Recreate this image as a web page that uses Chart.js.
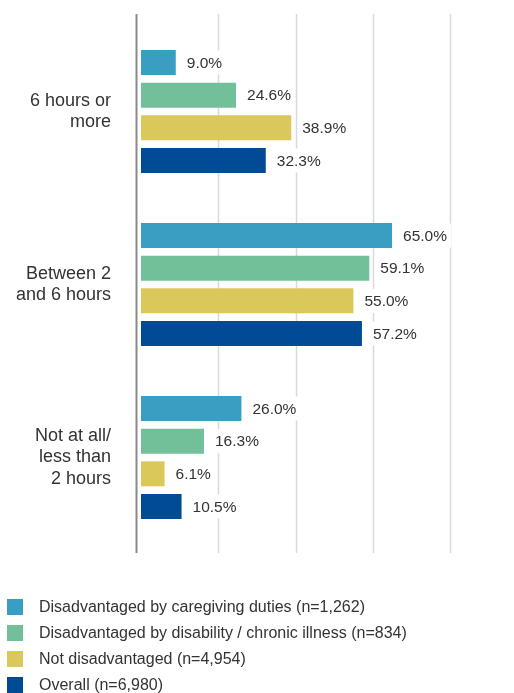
<!DOCTYPE html>
<html>
<head>
<meta charset="utf-8">
<script src="https://cdn.jsdelivr.net/npm/chart.js@4/dist/chart.umd.min.js"></script>
<style>
  body { margin: 0; background: #fff; }
  #wrap { width: 514px; height: 693px; }
</style>
</head>
<body>
<div id="wrap"><canvas id="hours-chart" width="514" height="693"></canvas></div>
<script>
const categories = [['6 hours or', 'more'], ['Between 2', 'and 6 hours'], ['Not at all/', 'less than', '2 hours']];
const seriesNames = [
    'Disadvantaged by caregiving duties (n=1,262)',
    'Disadvantaged by disability / chronic illness (n=834)',
    'Not disadvantaged (n=4,954)',
    'Overall (n=6,980)'
];
const caregiving = [9.0, 65.0, 26.0];
const disability = [24.6, 59.1, 16.3];
const notDisadvantaged = [38.9, 55.0, 6.1];
const overall = [32.3, 57.2, 10.5];
const xTicks = [0, 20, 40, 60, 80];

const colors = ['#3a9ec3', '#71c099', '#dbc85b', '#004b93'];
const FONT = '"Liberation Sans", Arial, sans-serif';
const TEXT = '#333333';

// grid lines + axis line, drawn a bit past the plot area like the original
const gridPlugin = {
    id: 'gridLines',
    beforeDatasetsDraw(chart) {
        const { ctx, chartArea } = chart;
        const x = chart.scales.x;
        const top = chartArea.top - 11, bottom = chartArea.bottom + 9;
        ctx.save();
        ctx.strokeStyle = '#d9d9d9';
        ctx.lineWidth = 1.5;
        xTicks.slice(1).forEach(t => {
            const px = Math.round(x.getPixelForValue(t)) + 0.5;
            ctx.beginPath();
            ctx.moveTo(px, top);
            ctx.lineTo(px, bottom);
            ctx.stroke();
        });
        ctx.strokeStyle = '#8a8a8a';
        ctx.lineWidth = 2;
        ctx.beginPath();
        ctx.moveTo(chartArea.left - 4.5, top);
        ctx.lineTo(chartArea.left - 4.5, bottom);
        ctx.stroke();
        ctx.restore();
    }
};

// value labels with a white backing box
const valueLabels = {
    id: 'valueLabels',
    afterDatasetsDraw(chart) {
        const { ctx } = chart;
        ctx.save();
        ctx.font = '15.5px ' + FONT;
        ctx.textBaseline = 'middle';
        ctx.textAlign = 'left';
        chart.data.datasets.forEach((ds, i) => {
            chart.getDatasetMeta(i).data.forEach((bar, j) => {
                const txt = ds.data[j].toFixed(1) + '%';
                const tx = bar.x + 11;
                const w = ctx.measureText(txt).width;
                ctx.fillStyle = '#fff';
                ctx.fillRect(tx - 4, bar.y - 12, w + 8, 24);
                ctx.fillStyle = TEXT;
                ctx.fillText(txt, tx, bar.y + 1);
            });
        });
        ctx.restore();
    }
};

// legend stacked at bottom-left
const bottomLegend = {
    id: 'bottomLegend',
    afterDraw(chart) {
        const { ctx } = chart;
        ctx.save();
        ctx.font = '16px ' + FONT;
        ctx.textBaseline = 'middle';
        chart.data.datasets.forEach((ds, i) => {
            const cy = 607 + i * 26;
            ctx.fillStyle = ds.backgroundColor;
            ctx.fillRect(7, cy - 8, 16, 16);
            ctx.fillStyle = TEXT;
            ctx.fillText(ds.label, 39, cy + 1);
        });
        ctx.restore();
    }
};

const seriesData = [caregiving, disability, notDisadvantaged, overall];

new Chart(document.getElementById('hours-chart'), {
    type: 'bar',
    data: {
        labels: categories,
        datasets: seriesData.map((d, i) => ({
            label: seriesNames[i],
            data: d,
            backgroundColor: colors[i],
            borderWidth: 0,
            categoryPercentage: 0.755,
            barPercentage: 0.765
        }))
    },
    options: {
        indexAxis: 'y',
        responsive: false,
        animation: false,
        layout: { padding: { top: 25, bottom: 149, right: 64, left: 0 } },
        scales: {
            x: {
                display: false,
                min: 0,
                max: 80,
                grid: { display: false }
            },
            y: {
                grid: { display: false, drawTicks: false },
                border: { display: false },
                afterFit(scale) {
                    scale.width = 141;
                    scale.paddingTop = 0;
                    scale.paddingBottom = 0;
                },
                ticks: {
                    padding: 30,
                    color: TEXT,
                    font: { size: 18, family: FONT, lineHeight: 1.17 }
                }
            }
        },
        plugins: {
            legend: { display: false },
            tooltip: { enabled: false }
        }
    },
    plugins: [gridPlugin, valueLabels, bottomLegend]
});
</script>
</body>
</html>
